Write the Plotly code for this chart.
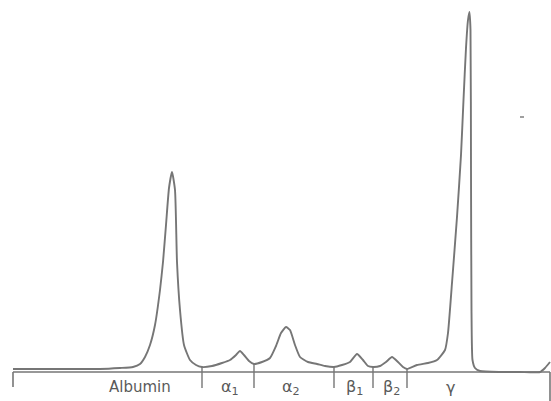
import plotly.graph_objects as go

# Densitometer trace of serum protein electrophoresis
# x: migration position, y: optical density above baseline
trace_x = [13, 60, 100, 120, 133, 140, 145, 150, 155, 160, 163, 166, 169, 172,
           175, 177, 180, 184, 190, 196, 202,
           212, 222, 230, 236, 240, 244, 249, 254,
           262, 270, 276, 281, 286, 290, 295, 300, 308, 317, 325, 334,
           342, 350, 357, 363, 368, 373,
           380, 386, 392, 398, 403, 407,
           417, 428, 437, 445, 448, 452, 457, 461, 463.5, 466, 468, 469.5,
           470.5, 471, 471.5, 472.5, 475, 480, 500, 520, 540, 545, 550]
trace_y = [1, 1, 1, 2, 3, 6, 13, 25, 45, 80, 108, 145, 182, 198,
           180, 108, 60, 25, 10, 5, 3,
           4, 7, 10, 15, 19, 15, 9, 6,
           8, 12, 24, 37, 43, 40, 25, 13, 8, 6, 4, 3,
           5, 8, 16, 10, 4, 3,
           4, 8, 13, 8, 3, 1,
           5, 7, 10, 20, 37, 87, 153, 215, 270, 322, 350, 358,
           340, 200, 60, 10, 2, -1, -2, -2, -2, 2, 8]

# Fraction boundaries and labels
boundaries = [202, 254, 334, 373, 407]
boundary_tops = [3, 6, 3, 3, 1]
axis_start, axis_end = 13, 550
fractions = ["Albumin", "α<sub>1</sub>", "α<sub>2</sub>", "β<sub>1</sub>", "β<sub>2</sub>", "γ"]
label_x = [140, 230, 291, 354, 391, 450]

stray_x = [520, 524]
stray_y = [253, 253]

LINE = "#767676"
base = -2
tick_bottom = -18

fig = go.Figure()
# baseline axis
fig.add_trace(go.Scatter(x=[axis_start, axis_end], y=[base, base], mode="lines",
                         line=dict(color=LINE, width=1.6), hoverinfo="skip"))
# end ticks
fig.add_trace(go.Scatter(x=[axis_start, axis_start, None, axis_end, axis_end],
                         y=[base, -17, None, base, -40], mode="lines",
                         line=dict(color=LINE, width=1.6), hoverinfo="skip"))
# fraction dividers
dx, dy = [], []
for bx, bt in zip(boundaries, boundary_tops):
    dx += [bx, bx, None]
    dy += [bt, tick_bottom, None]
fig.add_trace(go.Scatter(x=dx, y=dy, mode="lines",
                         line=dict(color=LINE, width=1.4), hoverinfo="skip"))
# density trace
fig.add_trace(go.Scatter(x=trace_x, y=trace_y, mode="lines",
                         line=dict(color=LINE, width=1.9, shape="spline", smoothing=0.5)))
# stray mark
fig.add_trace(go.Scatter(x=stray_x, y=stray_y, mode="lines",
                         line=dict(color="#888888", width=1.6), hoverinfo="skip"))

for lx, txt in zip(label_x, fractions):
    fig.add_annotation(x=lx, y=-17, text=txt, showarrow=False, yanchor="middle",
                       font=dict(family="DejaVu Sans", size=15 if txt == "Albumin" else 16,
                                 color="#5a5a5a"))

fig.update_layout(
    width=551, height=401, margin=dict(l=0, r=0, t=0, b=0),
    paper_bgcolor="white", plot_bgcolor="white", showlegend=False,
    xaxis=dict(range=[0, 551], visible=False, fixedrange=True),
    yaxis=dict(range=[-31, 370], visible=False, fixedrange=True),
)
fig.write_html("out.html", config={"displayModeBar": False},
               post_script="document.body.style.margin='0';document.body.style.overflow='hidden';")
